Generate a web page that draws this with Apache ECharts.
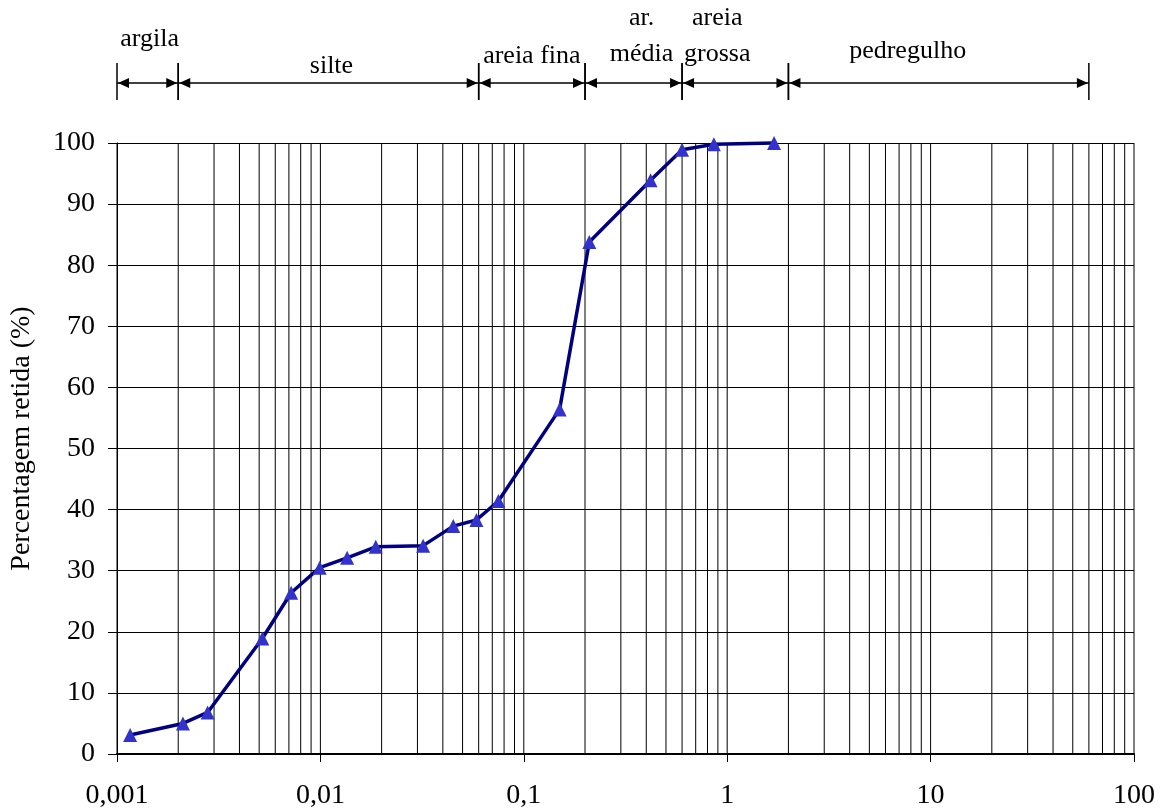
<!DOCTYPE html>
<html>
<head>
<meta charset="utf-8">
<script src="https://cdn.jsdelivr.net/npm/echarts@6/dist/echarts.min.js"></script>
<style>
  html, body { margin: 0; padding: 0; background: #fff; }
  #chart { width: 1167px; height: 810px; }
</style>
</head>
<body>
<div id="chart"></div>
<script>
// Grain size (mm) and cumulative percentage
const grainSize = [0.00116, 0.00211, 0.00279, 0.00518, 0.00718, 0.00992, 0.01353, 0.01871,
  0.032, 0.045, 0.0585, 0.075, 0.15, 0.21, 0.42, 0.6, 0.86, 1.7];
const percentRetained = [3.1, 5.0, 6.8, 18.9, 26.4, 30.5, 32.1, 33.9,
  34.1, 37.3, 38.3, 41.4, 56.4, 83.8, 93.9, 98.9, 99.8, 100];

// Soil classification bands (limits in mm)
const bandLimits = [0.001, 0.002, 0.06, 0.2, 0.6, 2, 60];
const bandNames = ['argila', 'silte', 'areia fina', 'ar.\nmédia', 'areia\ngrossa', 'pedregulho'];

// Axis tick labels
const xTickLabels = ['0,001', '0,01', '0,1', '1', '10', '100'];

const FONT = '"Liberation Serif", "Times New Roman", serif';

// Label placement relative to band centre and plot top
const bandLabelLayout = [
  { dx: 2, dy: -104 }, { dx: 3, dy: -77 }, { dx: 0, dy: -87 },
  { dx: 8, dy: -107 }, { dx: -18, dy: -107 }, { dx: -31, dy: -92 }
];

// Vertical log grid: 1..9 in every decade
const gridValues = [];
for (let d = -3; d <= 1; d++) {
  for (let k = 1; k <= 9; k++) gridValues.push(+(k * Math.pow(10, d)).toPrecision(6));
}
gridValues.push(100);

const bandData = bandNames.map((n, i) => [bandLimits[i], bandLimits[i + 1], 100]);

const chart = echarts.init(document.getElementById('chart'), null, { renderer: 'canvas' });

chart.setOption({
  animation: false,
  grid: { left: 117, right: 33, top: 143, bottom: 55 },
  xAxis: {
    type: 'log', logBase: 10, min: 0.001, max: 100,
    axisLine: { show: true, lineStyle: { color: '#000', width: 2 } },
    axisTick: { show: true, length: 8, lineStyle: { color: '#000', width: 1 } },
    axisLabel: {
      margin: 28, fontSize: 28, fontFamily: FONT, color: '#000',
      formatter: v => xTickLabels[Math.round(Math.log10(v)) + 3]
    },
    splitLine: { show: false },
    minorTick: { show: false }
  },
  yAxis: {
    type: 'value', min: 0, max: 100, interval: 10,
    name: 'Percentagem retida (%)', nameLocation: 'middle', nameRotate: 90, nameGap: 81,
    nameTextStyle: { fontSize: 28, fontFamily: FONT, color: '#000', padding: [0, 0, 0, 20] },
    axisLine: { show: true, lineStyle: { color: '#000', width: 1 } },
    axisTick: { show: true, length: 9, lineStyle: { color: '#000' } },
    axisLabel: { margin: 22, fontSize: 28, fontFamily: FONT, color: '#000' },
    splitLine: { show: true, lineStyle: { color: '#000', width: 1 } }
  },
  series: [
    {
      // vertical grid lines
      type: 'custom', z: 1, silent: true, clip: false,
      data: gridValues.map(v => [v, 0]),
      encode: { x: 0, y: 1 },
      renderItem: (params, api) => {
        const v = api.value(0);
        const p0 = api.coord([v, 0]);
        const p1 = api.coord([v, 100]);
        return {
          type: 'line',
          shape: { x1: p0[0], y1: p0[1], x2: p1[0], y2: p1[1] },
          style: { stroke: '#000', lineWidth: 1 }
        };
      }
    },
    {
      // classification bands above the plot
      type: 'custom', z: 3, silent: true, clip: false,
      data: bandData,
      encode: { x: [0, 1], y: 2 },
      renderItem: (params, api) => {
        const i = params.dataIndex;
        const a = api.coord([api.value(0), api.value(2)]);
        const b = api.coord([api.value(1), api.value(2)]);
        const x0 = a[0], x1 = b[0], top = a[1];
        const ly = top - 60;
        const ah = 11, aw = 5;
        const lay = bandLabelLayout[i];
        return {
          type: 'group',
          children: [
            { type: 'line', shape: { x1: x0, y1: ly, x2: x1, y2: ly }, style: { stroke: '#000', lineWidth: 1.5 } },
            { type: 'polygon', shape: { points: [[x0 + 1, ly], [x0 + 1 + ah, ly - aw], [x0 + 1 + ah, ly + aw]] }, style: { fill: '#000' } },
            { type: 'polygon', shape: { points: [[x1 - 1, ly], [x1 - 1 - ah, ly - aw], [x1 - 1 - ah, ly + aw]] }, style: { fill: '#000' } },
            { type: 'line', shape: { x1: x0, y1: top - 80, x2: x0, y2: top - 43 }, style: { stroke: '#000', lineWidth: 1.5 } },
            { type: 'line', shape: { x1: x1, y1: top - 80, x2: x1, y2: top - 43 }, style: { stroke: '#000', lineWidth: 1.5 } },
            {
              type: 'text',
              x: (x0 + x1) / 2 + lay.dx, y: top + lay.dy,
              style: {
                text: bandNames[i], fill: '#000',
                font: '26px ' + FONT,
                align: 'center', verticalAlign: 'middle',
                textAlign: 'center', textVerticalAlign: 'middle',
                lineHeight: 36
              }
            }
          ]
        };
      }
    },
    {
      type: 'line', z: 5, clip: false,
      data: grainSize.map((x, i) => [x, percentRetained[i]]),
      lineStyle: { color: '#000080', width: 3.5 },
      symbol: 'triangle', symbolSize: 14,
      itemStyle: { color: '#3333CC' },
      emphasis: { disabled: true }
    }
  ]
});
</script>
</body>
</html>
